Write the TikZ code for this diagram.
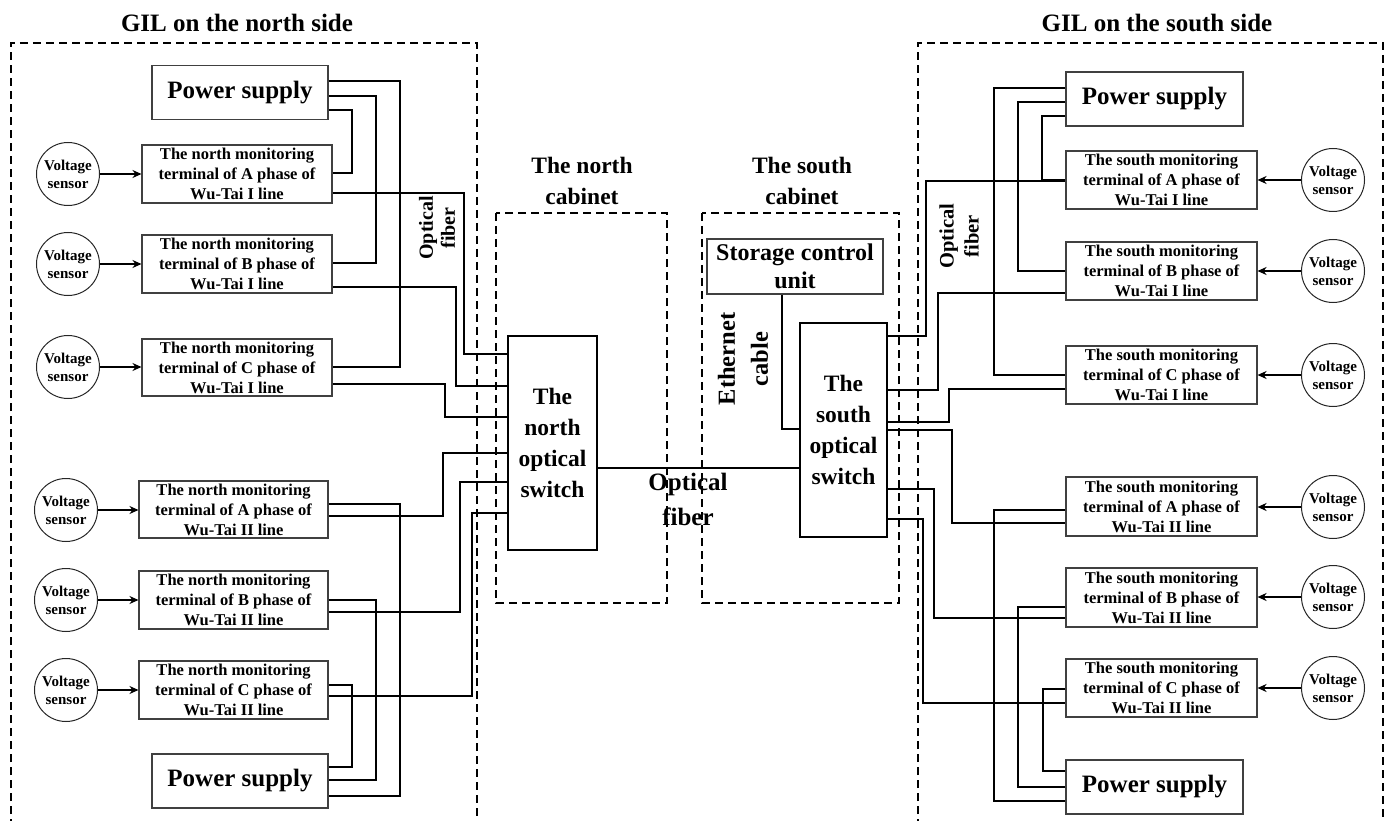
\documentclass[tikz,border=0pt]{standalone}
\usepackage{fontspec}
\setmainfont{Liberation Serif}
\usetikzlibrary{arrows.meta}
\newcommand\fTitle{\fontsize{25}{30}\selectfont\bfseries}
\newcommand\fBig{\fontsize{25}{30}\selectfont\bfseries}
\newcommand\fTerm{\fontsize{16.5}{20}\selectfont\bfseries}
\newcommand\fSens{\fontsize{15}{18}\selectfont\bfseries}
\newcommand\fCab{\fontsize{23.5}{31}\selectfont\bfseries}
\newcommand\fSCU{\fontsize{24}{28}\selectfont\bfseries}
\newcommand\fEth{\fontsize{24.5}{33}\selectfont\bfseries}
\newcommand\fOfS{\fontsize{20}{22}\selectfont\bfseries}
\newcommand\fOfR{\fontsize{20.5}{25}\selectfont\bfseries}
\newcommand\fOfM{\fontsize{25}{35}\selectfont\bfseries}
\tikzset{
  wire/.style={line width=1.8pt, black},
  arr/.style={line width=1.8pt, black, -{Stealth[length=9pt,width=8pt]}},
  dashline/.style={line width=1.8pt, dash pattern=on 8pt off 5pt},
  termbox/.style={draw=black!75, line width=1.1pt, minimum width=190pt, minimum height=58pt, inner sep=0pt, align=center, font=\fTerm},
  psbox/.style={draw=black!75, line width=1.1pt, minimum width=176pt, minimum height=54pt, inner sep=0pt, font=\fBig},
  sensor/.style={circle, draw=black!85, line width=1pt, minimum size=63pt, inner sep=0pt, align=center, font=\fSens},
  swbox/.style={draw, line width=2pt, minimum width=88pt, minimum height=214pt, inner sep=0pt, align=center, font=\fCab},
  lbl/.style={align=center, inner sep=0pt}
}
\begin{document}
\begin{tikzpicture}[x=1pt,y=-1pt]
\useasboundingbox (0,0) rectangle (1390,821);
% dashed regions
\draw[dashline] (11,840) -- (11,43) -- (477,43) -- (477,840);
\draw[dashline] (918,840) -- (918,43) -- (1383,43) -- (1383,840);
\draw[dashline] (496,213) rectangle (667,603);
\draw[dashline] (702,213) rectangle (899,603);
% titles
\node[font=\fTitle, anchor=base] (tN) at (237,32) {GIL on the north side};
\node[font=\fTitle, anchor=base] (tS) at (1157,32) {GIL on the south side};
\node[lbl, font=\fCab] (tNC) at (582,181) {The north\\cabinet};
\node[lbl, font=\fCab] (tSC) at (802,181) {The south\\cabinet};
% north side nodes
\node[psbox] (PS1) at (240,92.5) {Power supply};
\node[termbox] (NA) at (237,174) {The north monitoring\\terminal of A phase of\\Wu-Tai I line};
\node[termbox] (NB) at (237,264) {The north monitoring\\terminal of B phase of\\Wu-Tai I line};
\node[termbox, minimum height=57pt] (NC) at (237,367.5) {The north monitoring\\terminal of C phase of\\Wu-Tai I line};
\node[termbox, minimum width=189pt, minimum height=57pt] (N2A) at (233.5,509.5) {The north monitoring\\terminal of A phase of\\Wu-Tai II line};
\node[termbox, minimum width=189pt] (N2B) at (233.5,600) {The north monitoring\\terminal of B phase of\\Wu-Tai II line};
\node[termbox, minimum width=189pt] (N2C) at (233.5,690) {The north monitoring\\terminal of C phase of\\Wu-Tai II line};
\node[psbox] (PS2) at (240,781) {Power supply};
\node[sensor] (sNA) at (68,174) {Voltage\\sensor};
\node[sensor] (sNB) at (68,264) {Voltage\\sensor};
\node[sensor] (sNC) at (68,367) {Voltage\\sensor};
\node[sensor] (sN2A) at (66,510) {Voltage\\sensor};
\node[sensor] (sN2B) at (66,600) {Voltage\\sensor};
\node[sensor] (sN2C) at (66,690) {Voltage\\sensor};
% cabinets
\node[swbox, minimum width=89pt] (NSW) at (552.5,443) {The\\north\\optical\\switch};
\node[swbox, minimum width=87pt] (SSW) at (843.5,430) {The\\south\\optical\\switch};
\node[draw=black!75, line width=1.1pt, minimum width=176pt, minimum height=55pt, inner sep=0pt, align=center, font=\fSCU] (SCU) at (795,266.5) {Storage control\\unit};
% south side nodes
\node[psbox, minimum width=177pt] (PS3) at (1154.5,99) {Power supply};
\node[termbox, minimum width=191pt] (SA) at (1161.5,180) {The south monitoring\\terminal of A phase of\\Wu-Tai I line};
\node[termbox, minimum width=191pt] (SB) at (1161.5,271) {The south monitoring\\terminal of B phase of\\Wu-Tai I line};
\node[termbox, minimum width=191pt] (SC) at (1161.5,375) {The south monitoring\\terminal of C phase of\\Wu-Tai I line};
\node[termbox, minimum width=191pt, minimum height=59pt] (SA2) at (1161.5,506.5) {The south monitoring\\terminal of A phase of\\Wu-Tai II line};
\node[termbox, minimum width=191pt, minimum height=59pt] (SB2) at (1161.5,597.5) {The south monitoring\\terminal of B phase of\\Wu-Tai II line};
\node[termbox, minimum width=191pt] (SC2) at (1161.5,688) {The south monitoring\\terminal of C phase of\\Wu-Tai II line};
\node[psbox, minimum width=177pt] (PS4) at (1154.5,787) {Power supply};
\node[sensor] (sSA) at (1333,180) {Voltage\\sensor};
\node[sensor] (sSB) at (1333,271) {Voltage\\sensor};
\node[sensor] (sSC) at (1333,375) {Voltage\\sensor};
\node[sensor] (sSA2) at (1333,507) {Voltage\\sensor};
\node[sensor] (sSB2) at (1333,597) {Voltage\\sensor};
\node[sensor] (sSC2) at (1333,688) {Voltage\\sensor};
% labels
\node[lbl, rotate=90, font=\fOfS] (ofN) at (437,228) {Optical\\fiber};
\node[lbl, rotate=90, font=\fOfR] (ofS) at (959,236) {Optical\\fiber};
\node[lbl, rotate=90, font=\fEth] (eth) at (743,359) {Ethernet\\cable};
\node[lbl, font=\fOfM] (ofM) at (688,499) {Optical\\fiber};
% sensor arrows
\foreach \s/\t in {sNA/NA,sNB/NB,sNC/NC,sN2A/N2A,sN2B/N2B,sN2C/N2C}
  \draw[arr] (\s.east) -- (\t.west |- \s.east);
\foreach \s/\t in {sSA/SA,sSB/SB,sSC/SC,sSA2/SA2,sSB2/SB2,sSC2/SC2}
  \draw[arr] (\s.west) -- (\t.east |- \s.west);
% north power I
\draw[wire] (PS1.east |- 0,81) -| (400,367) -- (NC.east |- 0,367);
\draw[wire] (PS1.east |- 0,96) -| (376,263) -- (NB.east |- 0,263);
\draw[wire] (PS1.east |- 0,110) -| (352,173) -- (NA.east |- 0,173);
% north fiber I
\draw[wire] (NA.east |- 0,193) -| (464,354) -- (NSW.west |- 0,354);
\draw[wire] (NB.east |- 0,287) -| (456,386) -- (NSW.west |- 0,386);
\draw[wire] (NC.east |- 0,384) -| (445,417) -- (NSW.west |- 0,417);
% north fiber II
\draw[wire] (N2A.east |- 0,516) -| (443,453) -- (NSW.west |- 0,453);
\draw[wire] (N2B.east |- 0,612) -| (460,482) -- (NSW.west |- 0,482);
\draw[wire] (N2C.east |- 0,696) -| (472,513) -- (NSW.west |- 0,513);
% north power II
\draw[wire] (N2A.east |- 0,504) -| (400,796) -- (PS2.east |- 0,796);
\draw[wire] (N2B.east |- 0,600) -| (376,780) -- (PS2.east |- 0,780);
\draw[wire] (N2C.east |- 0,685) -| (352,767) -- (PS2.east |- 0,767);
% center
\draw[wire] (NSW.east |- 0,468) -- (SSW.west |- 0,468);
\draw[wire] (SCU.south -| 782,0) |- (SSW.west |- 0,429);
% south power I
\draw[wire] (PS3.west |- 0,88) -| (994,375) -- (SC.west |- 0,375);
\draw[wire] (PS3.west |- 0,102) -| (1018,271) -- (SB.west |- 0,271);
\draw[wire] (PS3.west |- 0,116) -| (1042,180) -- (SA.west |- 0,180);
% south fiber I
\draw[wire] (SSW.east |- 0,336) -| (926,181) -- (SA.west |- 0,181);
\draw[wire] (SSW.east |- 0,390) -| (938,293) -- (SB.west |- 0,293);
\draw[wire] (SSW.east |- 0,422) -| (949,389) -- (SC.west |- 0,389);
% south fiber II
\draw[wire] (SSW.east |- 0,430) -| (952,523) -- (SA2.west |- 0,523);
\draw[wire] (SSW.east |- 0,489) -| (934,618) -- (SB2.west |- 0,618);
\draw[wire] (SSW.east |- 0,519) -| (923,703) -- (SC2.west |- 0,703);
% south power II
\draw[wire] (SA2.west |- 0,510) -| (994,801) -- (PS4.west |- 0,801);
\draw[wire] (SB2.west |- 0,607) -| (1018,787) -- (PS4.west |- 0,787);
\draw[wire] (SC2.west |- 0,689) -| (1043,771) -- (PS4.west |- 0,771);
\end{tikzpicture}
\end{document}
